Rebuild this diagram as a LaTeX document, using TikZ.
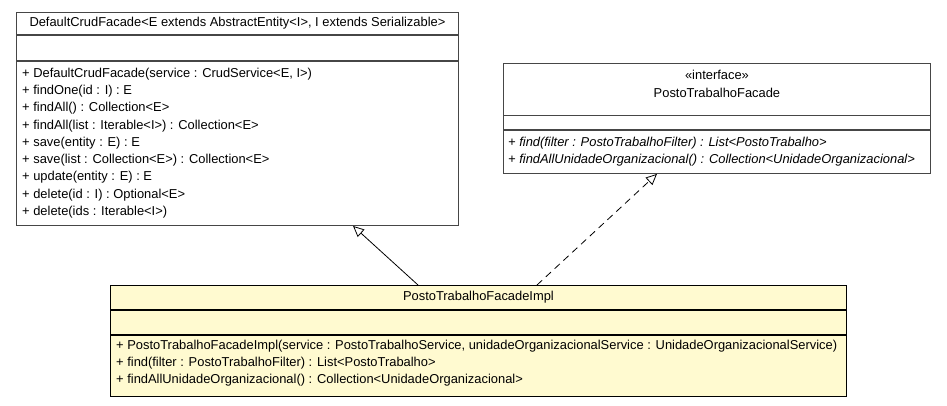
\documentclass[tikz,border=0pt]{standalone}
\usepackage{fontspec}
\setmainfont{Liberation Sans}
\usetikzlibrary{
    positioning,
    arrows.meta,
    calc
}
\definecolor{umlLine}{RGB}{70, 70, 70}
\definecolor{umlFill}{RGB}{255, 250, 208}

\tikzset{
    classbox/.style={draw=umlLine, line width=0.9pt, anchor=north west, inner sep=0pt},
    sepline/.style={draw=umlLine, line width=1.1pt},
    member/.style={anchor=west, inner sep=0pt, font=\fontsize{12.9}{14}\selectfont},
    ctitle/.style={inner sep=0pt, font=\fontsize{12.9}{14}\selectfont},
    inherit/.style={-{Triangle[open, length=11pt, width=10pt]}, line width=0.8pt},
    realize/.style={inherit, dash pattern=on 7pt off 5pt}
}

\begin{document}
\begin{tikzpicture}[x=1pt, y=-1pt]
        \useasboundingbox (0,0) rectangle (947,405);

        % DefaultCrudFacade
        \node[classbox, minimum width=442pt, minimum height=213pt] (crud) at (16,12) {};
        \draw[sepline] ($(crud.north west)+(0,23)$) -- ($(crud.north east)+(0,23)$);
        \draw[sepline] ($(crud.north west)+(0,49)$) -- ($(crud.north east)+(0,49)$);
        \node[ctitle] (crudName) at ($(crud.north)+(0,11.5)$)
            {DefaultCrudFacade<E extends AbstractEntity<I>, I extends Serializable>};
        \foreach \m [count=\i from 0] in {
            + DefaultCrudFacade(service : CrudService<E{,} I>),
            + findOne(id : I) : E,
            + findAll() : Collection<E>,
            + findAll(list : Iterable<I>) : Collection<E>,
            + save(entity : E) : E,
            + save(list : Collection<E>) : Collection<E>,
            + update(entity : E) : E,
            + delete(id : I) : Optional<E>,
            + delete(ids : Iterable<I>)}
            \node[member] (crudM\i) at ($(crud.north west)+(6,62+17.25*\i)$) {\m};

        % PostoTrabalhoFacade
        \node[classbox, minimum width=427pt, minimum height=110pt] (facade) at (503,63) {};
        \draw[sepline] ($(facade.north west)+(0,52.5)$) -- ($(facade.north east)+(0,52.5)$);
        \draw[sepline] ($(facade.north west)+(0,67)$) -- ($(facade.north east)+(0,67)$);
        \node[ctitle] (facadeStereo) at ($(facade.north)+(0,12)$) {«interface»};
        \node[ctitle] (facadeName) at ($(facade.north)+(0,30)$) {PostoTrabalhoFacade};
        \node[member, font=\fontsize{12.9}{14}\selectfont\itshape] (facadeM0) at ($(facade.north west)+(5,80)$)
            {+ find(filter : PostoTrabalhoFilter) : List<PostoTrabalho>};
        \node[member, font=\fontsize{12.9}{14}\selectfont\itshape] (facadeM1) at ($(facade.north west)+(5,97)$)
            {+ findAllUnidadeOrganizacional() : Collection<UnidadeOrganizacional>};

        % PostoTrabalhoFacadeImpl
        \node[classbox, draw=black, fill=umlFill, minimum width=736pt, minimum height=111pt] (impl) at (110,285) {};
        \draw[sepline, draw=black] ($(impl.north west)+(0,25)$) -- ($(impl.north east)+(0,25)$);
        \draw[sepline, draw=black] ($(impl.north west)+(0,50)$) -- ($(impl.north east)+(0,50)$);
        \node[ctitle] (implName) at ($(impl.north)+(0,12.5)$) {PostoTrabalhoFacadeImpl};
        \node[member] (implM0) at ($(impl.north west)+(6,61)$)
            {+ PostoTrabalhoFacadeImpl(service : PostoTrabalhoService, unidadeOrganizacionalService : UnidadeOrganizacionalService)};
        \node[member] (implM1) at ($(impl.north west)+(6,78)$)
            {+ find(filter : PostoTrabalhoFilter) : List<PostoTrabalho>};
        \node[member] (implM2) at ($(impl.north west)+(6,95)$)
            {+ findAllUnidadeOrganizacional() : Collection<UnidadeOrganizacional>};

        % Relations
        \coordinate (implGen) at ($(impl.north west)+(308,0)$);
        \coordinate (crudGen) at ($(crud.south west)+(337,0)$);
        \coordinate (implReal) at ($(impl.north west)+(427,0)$);
        \coordinate (facadeReal) at ($(facade.south west)+(154,0)$);
        \draw[inherit] (implGen) -- (crudGen);
        \draw[realize] (implReal) -- (facadeReal);
    \end{tikzpicture}
\end{document}
